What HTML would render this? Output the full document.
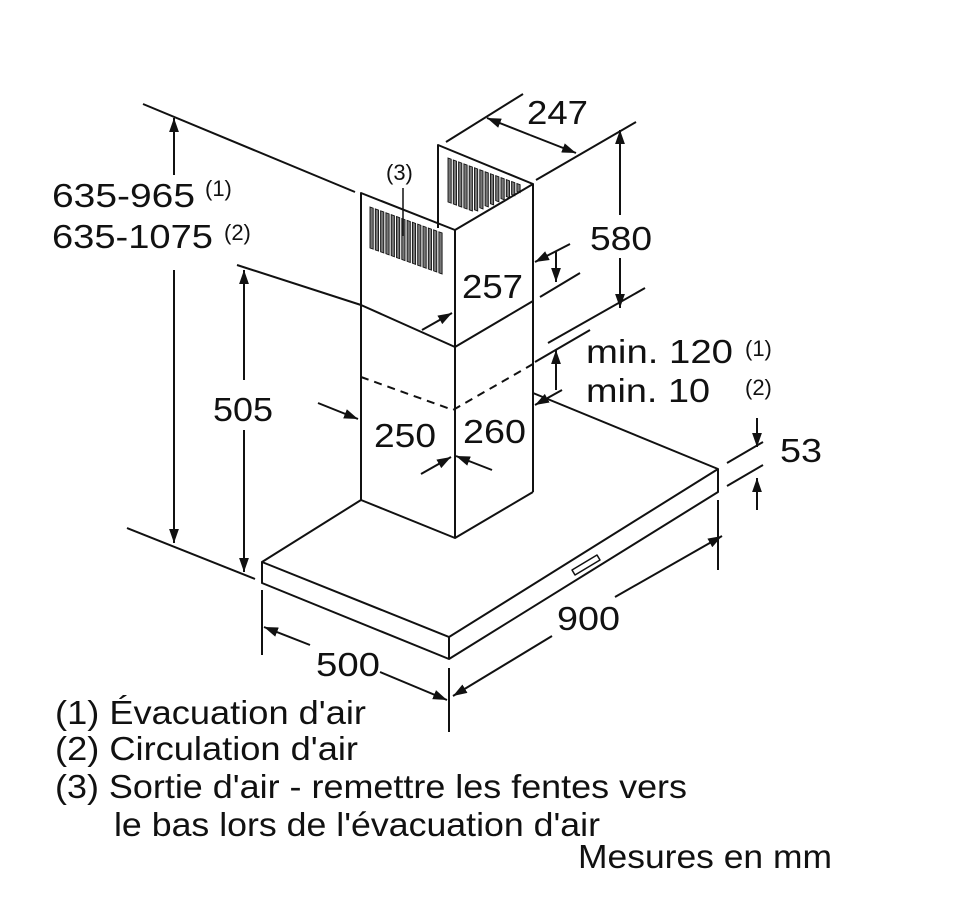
<!DOCTYPE html>
<html><head><meta charset="utf-8"><style>
html,body{margin:0;padding:0;background:#fff}
svg{display:block}
text{font-family:"Liberation Sans",sans-serif;fill:#111}
</style></head><body>
<svg width="978" height="908" viewBox="0 0 978 908" xmlns="http://www.w3.org/2000/svg">
<defs>
<marker id="a" viewBox="0 0 10 10" refX="10" refY="5" markerWidth="14" markerHeight="14" markerUnits="userSpaceOnUse" orient="auto"><path d="M0,1.5 L10,5 L0,8.5 z" fill="#111"/></marker>
</defs>
<!-- vents -->
<g transform="translate(370,207) skewY(19.8)" fill="#777" stroke="#111" stroke-width="0.9">
<rect x="0" y="0" width="3.2" height="41"/><rect x="5.3" y="0" width="3.2" height="41"/><rect x="10.6" y="0" width="3.2" height="41"/><rect x="15.9" y="0" width="3.2" height="41"/><rect x="21.2" y="0" width="3.2" height="41"/><rect x="26.5" y="0" width="3.2" height="41"/><rect x="31.8" y="0" width="3.2" height="41"/><rect x="37.1" y="0" width="3.2" height="41"/><rect x="42.4" y="0" width="3.2" height="41"/><rect x="47.7" y="0" width="3.2" height="41"/><rect x="53" y="0" width="3.2" height="41"/><rect x="58.3" y="0" width="3.2" height="41"/><rect x="63.6" y="0" width="3.2" height="41"/><rect x="68.9" y="0" width="3.2" height="41"/>
</g>
<g transform="translate(448,158) skewY(20.3)" fill="#777" stroke="#111" stroke-width="0.9">
<rect x="0" y="0" width="3.2" height="44"/><rect x="5.3" y="0" width="3.2" height="44"/><rect x="10.6" y="0" width="3.2" height="44"/><rect x="15.9" y="0" width="3.2" height="44"/><rect x="21.2" y="0" width="3.2" height="44"/><rect x="26.5" y="0" width="3.2" height="42"/><rect x="31.8" y="0" width="3.2" height="38"/><rect x="37.1" y="0" width="3.2" height="34"/><rect x="42.4" y="0" width="3.2" height="30"/><rect x="47.7" y="0" width="3.2" height="25"/><rect x="53" y="0" width="3.2" height="21"/><rect x="58.3" y="0" width="3.2" height="17"/><rect x="63.6" y="0" width="3.2" height="13"/><rect x="68.9" y="0" width="3.2" height="8"/>
</g>
<g stroke="#111" stroke-width="2" fill="none" stroke-linejoin="round">
<polyline points="438,228 438,145 533,184"/>
<polyline points="361,305 361,193 455,230 533,184 533,301"/>
<line x1="455" y1="230" x2="455" y2="347"/>
<polyline points="361,305 455,347 533,301"/>
<line x1="361" y1="305" x2="361" y2="500"/>
<line x1="455" y1="347" x2="455" y2="538"/>
<line x1="533" y1="301" x2="533" y2="492"/>
<polyline points="361,500 455,538 533,492"/>
<polyline points="361,377 453,410 533,364" stroke-dasharray="8,6"/>
<polyline points="361,500 262,562 449,637 718,469 533,393"/>
<polyline points="262,562 262,583 449,659 718,492 718,469"/>
<line x1="449" y1="637" x2="449" y2="659"/>
<polygon points="572,570 597,555 600,560 575,575" stroke-width="1.5"/>
<line x1="403" y1="188" x2="403" y2="236" stroke-width="1.5"/>
<line x1="143" y1="104" x2="355" y2="192"/>
<line x1="127" y1="528" x2="255" y2="579"/>
<line x1="237" y1="265" x2="361" y2="305"/>
<line x1="174" y1="175" x2="174" y2="118" marker-end="url(#a)"/>
<line x1="174" y1="270" x2="174" y2="543" marker-end="url(#a)"/>
<line x1="244" y1="380" x2="244" y2="270" marker-end="url(#a)"/>
<line x1="244" y1="430" x2="244" y2="572" marker-end="url(#a)"/>
<line x1="446" y1="142" x2="523" y2="94"/>
<line x1="536" y1="180" x2="636" y2="122"/>
<line x1="530" y1="135" x2="487" y2="118" marker-end="url(#a)"/>
<line x1="530" y1="135" x2="576" y2="153" marker-end="url(#a)"/>
<line x1="548" y1="343" x2="645" y2="288"/>
<line x1="620" y1="215" x2="620" y2="130" marker-end="url(#a)"/>
<line x1="620" y1="258" x2="620" y2="308" marker-end="url(#a)"/>
<line x1="422" y1="330" x2="452" y2="313" marker-end="url(#a)"/>
<line x1="570" y1="244" x2="535" y2="262" marker-end="url(#a)"/>
<line x1="556" y1="252" x2="556" y2="282" marker-end="url(#a)"/>
<line x1="540" y1="297" x2="580" y2="273"/>
<line x1="535" y1="362" x2="590" y2="330"/>
<line x1="556" y1="390" x2="556" y2="350" marker-end="url(#a)"/>
<line x1="562" y1="390" x2="535" y2="405" marker-end="url(#a)"/>
<line x1="727" y1="463" x2="763" y2="442"/>
<line x1="727" y1="486" x2="763" y2="465"/>
<line x1="757" y1="418" x2="757" y2="447" marker-end="url(#a)"/>
<line x1="757" y1="510" x2="757" y2="478" marker-end="url(#a)"/>
<line x1="318" y1="403" x2="358" y2="419" marker-end="url(#a)"/>
<line x1="421" y1="474" x2="451" y2="457" marker-end="url(#a)"/>
<line x1="492" y1="470" x2="456" y2="456" marker-end="url(#a)"/>
<line x1="718" y1="500" x2="718" y2="570"/>
<line x1="449" y1="668" x2="449" y2="732"/>
<line x1="262" y1="590" x2="262" y2="655"/>
<line x1="615" y1="597" x2="722" y2="536" marker-end="url(#a)"/>
<line x1="552" y1="636" x2="453" y2="696" marker-end="url(#a)"/>
<line x1="310" y1="645" x2="264" y2="627" marker-end="url(#a)"/>
<line x1="380" y1="672" x2="447" y2="700" marker-end="url(#a)"/>
</g>
<g font-size="33">
<text x="52" y="207" textLength="143" lengthAdjust="spacingAndGlyphs">635-965</text>
<text x="52" y="248" textLength="161" lengthAdjust="spacingAndGlyphs">635-1075</text>
<text x="213" y="421" textLength="60" lengthAdjust="spacingAndGlyphs">505</text>
<text x="527" y="124" textLength="61" lengthAdjust="spacingAndGlyphs">247</text>
<text x="590" y="250" textLength="62" lengthAdjust="spacingAndGlyphs">580</text>
<text x="462" y="298" textLength="61" lengthAdjust="spacingAndGlyphs">257</text>
<text x="586" y="363" textLength="147" lengthAdjust="spacingAndGlyphs">min. 120</text>
<text x="586" y="402" textLength="124" lengthAdjust="spacingAndGlyphs">min. 10</text>
<text x="780" y="462" textLength="42" lengthAdjust="spacingAndGlyphs">53</text>
<text x="374" y="447" textLength="62" lengthAdjust="spacingAndGlyphs">250</text>
<text x="463" y="443" textLength="63" lengthAdjust="spacingAndGlyphs">260</text>
<text x="557" y="630" textLength="63" lengthAdjust="spacingAndGlyphs">900</text>
<text x="316" y="676" textLength="64" lengthAdjust="spacingAndGlyphs">500</text>
<text x="55" y="724" textLength="311" lengthAdjust="spacingAndGlyphs">(1) Évacuation d'air</text>
<text x="55" y="760" textLength="303" lengthAdjust="spacingAndGlyphs">(2) Circulation d'air</text>
<text x="55" y="798" textLength="632" lengthAdjust="spacingAndGlyphs">(3) Sortie d'air - remettre les fentes vers</text>
<text x="114" y="836" textLength="486" lengthAdjust="spacingAndGlyphs">le bas lors de l'évacuation d'air</text>
<text x="578" y="868" textLength="254" lengthAdjust="spacingAndGlyphs">Mesures en mm</text>
</g>
<g font-size="22">
<text x="205" y="196">(1)</text>
<text x="224" y="240">(2)</text>
<text x="745" y="356">(1)</text>
<text x="745" y="395">(2)</text>
<text x="386" y="180">(3)</text>
</g>
</svg>
</body></html>
